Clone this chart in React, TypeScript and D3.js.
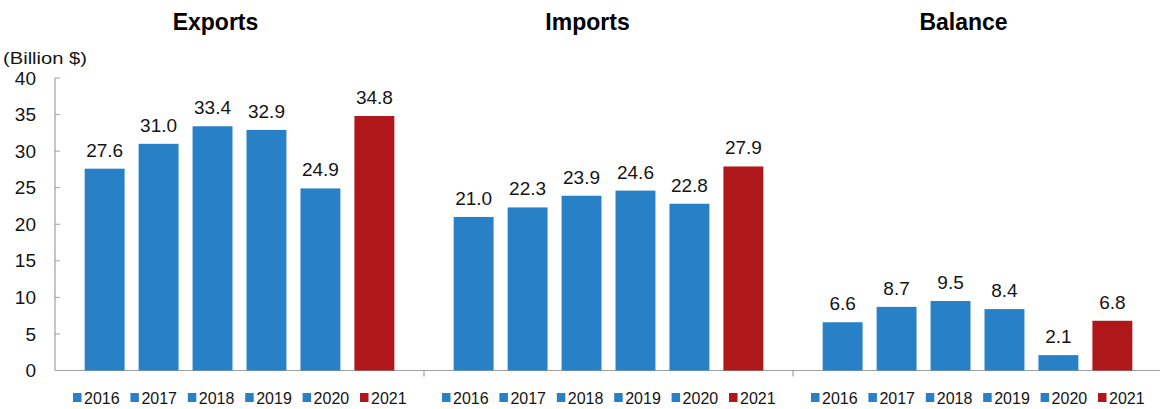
import { useEffect, useRef } from 'react';
import * as d3 from 'd3';

const groups = ['Exports', 'Imports', 'Balance'];
const years = ['2016', '2017', '2018', '2019', '2020', '2021'];
const exportsValues = [27.6, 31.0, 33.4, 32.9, 24.9, 34.8];
const importsValues = [21.0, 22.3, 23.9, 24.6, 22.8, 27.9];
const balanceValues = [6.6, 8.7, 9.5, 8.4, 2.1, 6.8];
const yTicks = [0, 5, 10, 15, 20, 25, 30, 35, 40];
const unitLabel = '(Billion $)';

const App: React.FC = () => {
  const chartRef = useRef<SVGSVGElement | null>(null);

  useEffect(() => {
    if (!chartRef.current) return;
    const svg = d3.select(chartRef.current);
    svg.selectAll('*').remove();

    const font = '"Liberation Sans", Arial, sans-serif';
    const blue = '#2880c6';
    const red = '#b0171a';
    const textColor = '#141414';
    const axisColor = '#a0a0a0';

    const left = 55;
    const right = 1162;
    const top = 78;
    const bottom = 370.5;

    const seriesByGroup = [exportsValues, importsValues, balanceValues];
    const titleShift = [-24, -21, -14]; // titles sit a bit left of group centre

    const y = d3.scaleLinear().domain([0, 40]).range([bottom, top]);

    const x0 = d3.scaleBand<string>()
      .domain(groups)
      .range([left, right])
      .padding(0);

    const x1 = d3.scaleBand<string>()
      .domain(years)
      .range([0, x0.bandwidth()])
      .paddingInner(0.26)
      .paddingOuter(0.55);

    const colorOf = (yr: string) => (yr === '2021' ? red : blue);

    // Y-axis
    svg.append('line')
      .attr('x1', left).attr('x2', left)
      .attr('y1', top).attr('y2', bottom)
      .attr('stroke', axisColor).attr('stroke-width', 1.2);

    svg.selectAll('.ytick')
      .data(yTicks)
      .enter().append('line')
      .attr('x1', left).attr('x2', left + 5)
      .attr('y1', d => y(d)).attr('y2', d => y(d))
      .attr('stroke', axisColor).attr('stroke-width', 1);

    svg.selectAll('.ylabel')
      .data(yTicks)
      .enter().append('text')
      .attr('x', 36)
      .attr('y', d => y(d))
      .attr('dy', '0.35em')
      .attr('text-anchor', 'end')
      .attr('font-family', font)
      .attr('font-size', 19)
      .attr('fill', textColor)
      .text(d => d);

    svg.append('text')
      .attr('x', 3)
      .attr('y', 64)
      .attr('font-family', font)
      .attr('font-size', 17)
      .attr('fill', textColor)
      .attr('textLength', 84)
      .attr('lengthAdjust', 'spacingAndGlyphs')
      .text(unitLabel);

    // X-axis
    svg.append('line')
      .attr('x1', left).attr('x2', right)
      .attr('y1', bottom).attr('y2', bottom)
      .attr('stroke', axisColor).attr('stroke-width', 1.2);

    svg.selectAll('.xtick')
      .data(groups.slice(1))
      .enter().append('line')
      .attr('x1', d => x0(d)!).attr('x2', d => x0(d)!)
      .attr('y1', bottom).attr('y2', bottom + 6)
      .attr('stroke', axisColor).attr('stroke-width', 1.2);

    const legendStep = 57.4;

    groups.forEach((grp, gi) => {
      const gx = x0(grp)!;
      const center = gx + x0.bandwidth() / 2;
      const values = seriesByGroup[gi];
      const data = years.map((yr, i) => ({ year: yr, value: values[i] }));

      // Title
      svg.append('text')
        .attr('x', center + titleShift[gi])
        .attr('y', 29.5)
        .attr('text-anchor', 'middle')
        .attr('font-family', font)
        .attr('font-size', 23)
        .attr('font-weight', 'bold')
        .attr('fill', '#000')
        .text(grp);

      const g = svg.append('g').attr('transform', `translate(${gx},0)`);

      // Bars
      g.selectAll('.bar')
        .data(data)
        .enter().append('rect')
        .attr('x', d => x1(d.year)!)
        .attr('y', d => y(d.value))
        .attr('width', x1.bandwidth())
        .attr('height', d => bottom - y(d.value))
        .attr('fill', d => colorOf(d.year));

      // Value labels
      g.selectAll('.val')
        .data(data)
        .enter().append('text')
        .attr('x', d => x1(d.year)! + x1.bandwidth() / 2)
        .attr('y', d => y(d.value) - 12)
        .attr('text-anchor', 'middle')
        .attr('font-family', font)
        .attr('font-size', 19)
        .attr('fill', textColor)
        .text(d => d.value.toFixed(1));

      // Legend under each group
      const legendStart = center - legendStep * years.length / 2;
      const items = svg.append('g');
      years.forEach((yr, i) => {
        const ic = legendStart + legendStep * (i + 0.5);
        items.append('rect')
          .attr('x', ic - 23)
          .attr('y', 393)
          .attr('width', 8.5)
          .attr('height', 9)
          .attr('fill', colorOf(yr));
        items.append('text')
          .attr('x', ic - 12)
          .attr('y', 403.5)
          .attr('font-family', font)
          .attr('font-size', 16)
          .attr('fill', textColor)
          .text(yr);
      });
    });
  }, []);

  return (
    <svg
      ref={chartRef}
      width={1160}
      height={409}
      style={{ position: 'absolute', left: 0, top: 0, background: '#fff' }}
    ></svg>
  );
};

export default App;
